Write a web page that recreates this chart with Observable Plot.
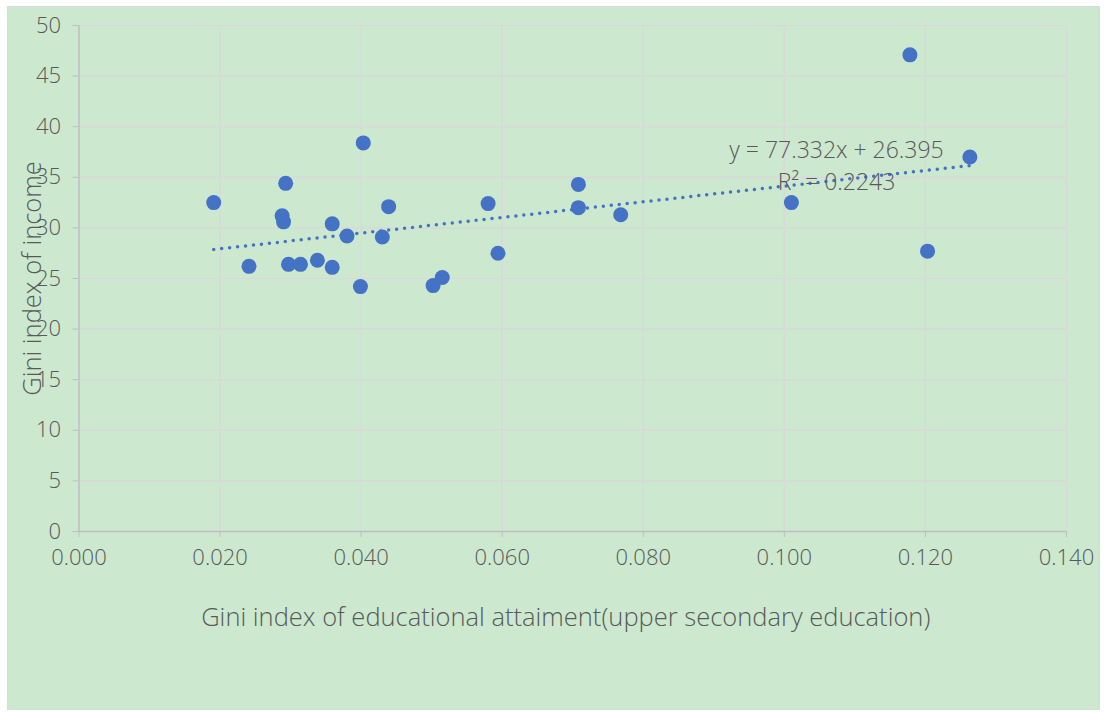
<!DOCTYPE html>
<html>
<head>
<meta charset="utf-8">
<script src="https://cdn.jsdelivr.net/npm/d3@7"></script>
<script src="https://cdn.jsdelivr.net/npm/@observablehq/plot@0.6"></script>
<style>
  html, body { margin: 0; padding: 0; background: #ffffff; }
  #wrap { position: relative; width: 1104px; height: 713px; overflow: hidden; }
  #panel { position: absolute; left: 7px; top: 6px; width: 1091px; height: 702px;
           background: #cce8cf; border: 1.5px solid #d9d9d9; }
  #chart { position: absolute; left: 0; top: 0; }
  #chart svg { background: transparent; }
</style>
</head>
<body>
<div id="wrap"><div id="panel"></div><div id="chart"></div></div>
<script>
// Gini index of educational attainment (upper secondary education)
const eduGini = [0.0191, 0.0241, 0.0293, 0.0288, 0.0290, 0.0297, 0.0314, 0.0338, 0.0359, 0.0359,
                 0.0380, 0.0399, 0.0403, 0.0430, 0.0439, 0.0502, 0.0515, 0.0580, 0.0594, 0.0708,
                 0.0708, 0.0768, 0.1010, 0.1178, 0.1203, 0.1263];
// Gini index of income
const incomeGini = [32.5, 26.2, 34.4, 31.2, 30.6, 26.4, 26.4, 26.8, 26.1, 30.4,
                    29.2, 24.2, 38.4, 29.1, 32.1, 24.3, 25.1, 32.4, 27.5, 34.3,
                    32.0, 31.3, 32.5, 47.1, 27.7, 37.0];
const trendSlope = 77.332;
const trendIntercept = 26.395;
const equationLines = ["y = 77.332x + 26.395", "R² = 0.2243"];
const xTicks = [0, 0.02, 0.04, 0.06, 0.08, 0.10, 0.12, 0.14];
const yTicks = [0, 5, 10, 15, 20, 25, 30, 35, 40, 45, 50];
const xLabel = "Gini index of educational attaiment(upper secondary education)";
const yLabel = "Gini index of income";

const points = eduGini.map((x, i) => ({x, y: incomeGini[i]}));
const trend = d3.extent(eduGini).map(x => ({x, y: trendSlope * x + trendIntercept}));

const font = "'Open Sans', 'Noto Sans', sans-serif";
const textColor = "#595959";

const plot = Plot.plot({
  width: 1104,
  height: 713,
  marginLeft: 78.5,
  marginRight: 38,
  marginTop: 25,
  marginBottom: 182,
  style: {fontFamily: font, fontSize: "22px", fontWeight: 300, color: textColor, background: "transparent"},
  x: {domain: [0, 0.14], axis: null},
  y: {domain: [0, 50], axis: null},
  marks: [
    Plot.gridX(xTicks, {stroke: "#d9d9d9", strokeOpacity: 1, strokeWidth: 1.5}),
    Plot.gridY(yTicks, {stroke: "#d9d9d9", strokeOpacity: 1, strokeWidth: 1.5}),
    Plot.ruleY([0], {stroke: "#bfbfbf", strokeWidth: 1.5}),
    Plot.ruleX([0], {stroke: "#bfbfbf", strokeWidth: 1.5}),
    Plot.axisX(xTicks, {tickFormat: d3.format(".3f"), tickSize: 6, tickPadding: 12,
      stroke: "#bfbfbf", fill: textColor, fontSize: 22, label: null}),
    Plot.axisY(yTicks, {tickSize: 6, tickPadding: 12,
      stroke: "#bfbfbf", fill: textColor, fontSize: 22, label: null}),
    Plot.dot(points, {x: "x", y: "y", r: 7.5, fill: "#4472c4", stroke: null}),
    Plot.line(trend, {x: "x", y: "y", stroke: "#4472c4", strokeWidth: 3.5,
      strokeDasharray: "0,8", strokeLinecap: "round"}),
    Plot.text([equationLines[0]], {frameAnchor: "top-right", dx: -230, dy: 125,
      textAnchor: "middle", lineAnchor: "middle", fill: textColor, fontSize: 23}),
    Plot.text([equationLines[1]], {frameAnchor: "top-right", dx: -230, dy: 157,
      textAnchor: "middle", lineAnchor: "middle", fill: textColor, fontSize: 23}),
    Plot.text([xLabel], {frameAnchor: "bottom", dy: 86, dx: -7, lineAnchor: "middle",
      textAnchor: "middle", fill: textColor, fontSize: 25.5}),
    Plot.text([yLabel], {frameAnchor: "left", dx: -46.5, rotate: -90, lineAnchor: "middle",
      textAnchor: "middle", fill: textColor, fontSize: 25.5})
  ]
});
document.getElementById("chart").appendChild(plot);
</script>
</body>
</html>
